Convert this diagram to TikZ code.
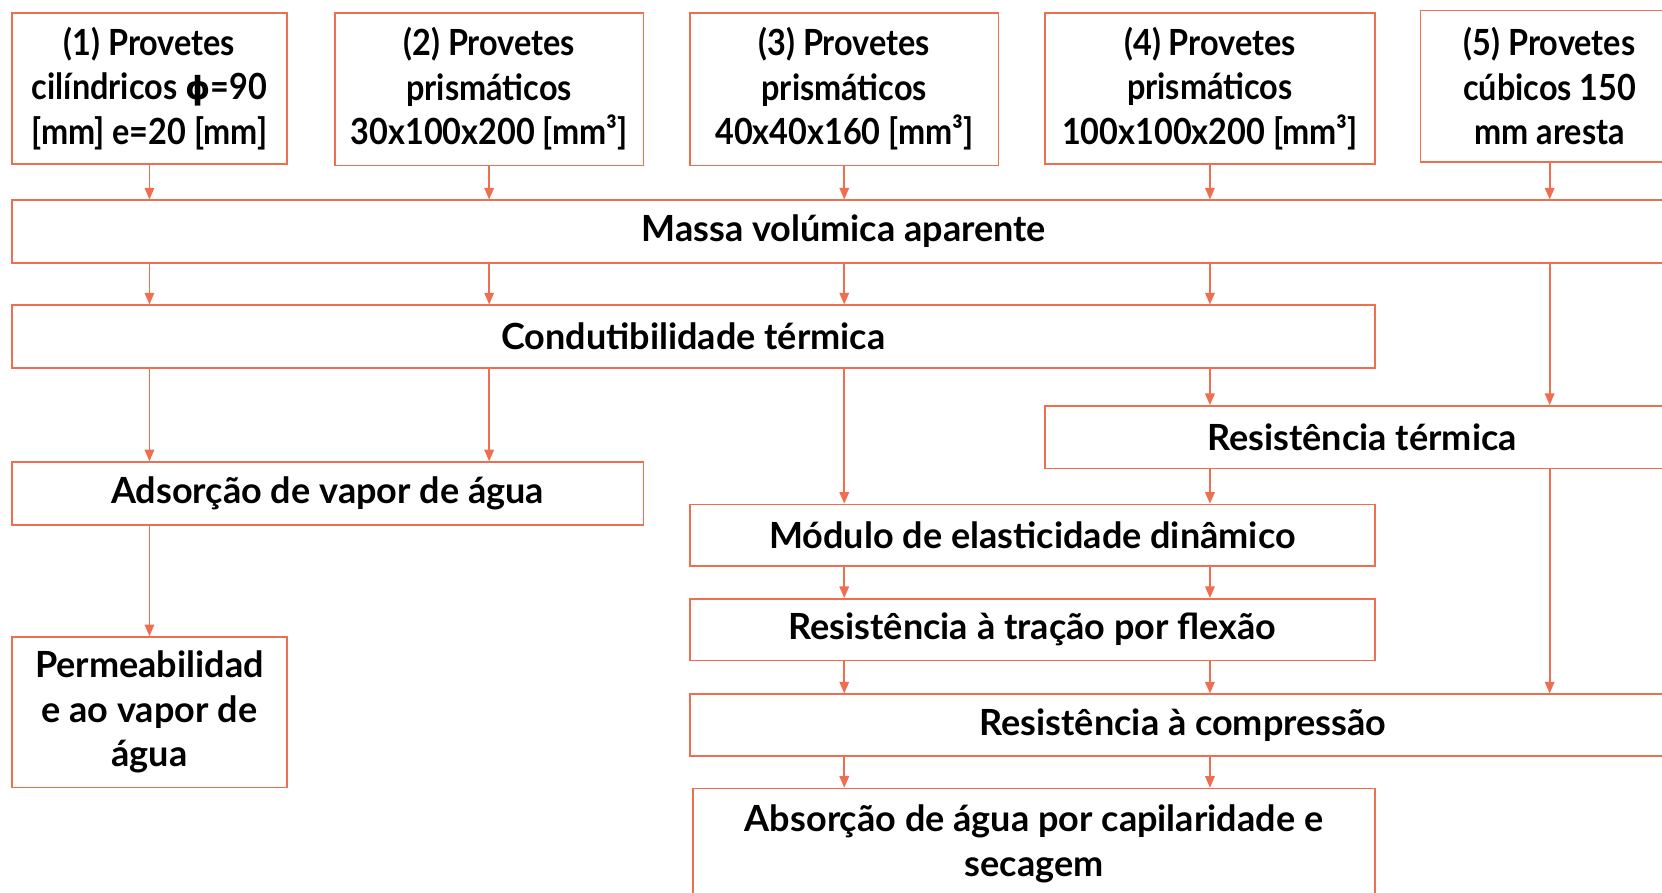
\documentclass[tikz,border=0pt]{standalone}
\usepackage{fontspec}
\setmainfont{Lato}
\newfontfamily\nar{Lato Bold}[FakeStretch=0.9]
\newfontfamily\phifont{DejaVu Sans Bold}
\usetikzlibrary{arrows.meta}
\definecolor{ln}{RGB}{240,110,80}
\tikzset{
  box/.style={draw=ln, line width=0.8pt, rectangle, inner sep=0pt, align=center,
    font=\fontsize{17}{21}\selectfont\bfseries, text=black},
  topbox/.style={box, font=\fontsize{17}{21}\selectfont\nar},
  arr/.style={draw=ln, line width=0.8pt, -{Triangle[length=5.5pt,width=4.5pt]}}
}
\begin{document}
\begin{tikzpicture}[x=0.5pt,y=-0.5pt]
\useasboundingbox (0,0) rectangle (1568,842);
% top boxes
\node[topbox, minimum width=130pt, minimum height=71.5pt] (b1) at (141,83.5) {(1) Provetes\\cilíndricos {\phifont\fontsize{15}{21}\selectfont ϕ}=90\\{[mm]} e=20 [mm]};
\node[topbox, minimum width=145.5pt, minimum height=72pt] (b2) at (461.5,84) {(2) Provetes\\prismáticos\\30x100x200 [mm³]};
\node[topbox, minimum width=145.5pt, minimum height=72pt] (b3) at (796.5,84) {(3) Provetes\\prismáticos\\40x40x160 [mm³]};
\node[topbox, minimum width=155.5pt, minimum height=71.5pt] (b4) at (1141.5,83.5) {(4) Provetes\\prismáticos\\100x100x200 [mm³]};
\node[topbox, minimum width=122pt, minimum height=71.5pt] (b5) at (1462,81.5) {(5) Provetes\\cúbicos 150\\mm aresta};
% rows
\node[box, minimum width=785pt, minimum height=29.5pt] (massa) at (796,218.5) {Massa volúmica aparente};
\node[box, minimum width=643pt, minimum height=29.5pt] (cond) at (654,317.5) {Condutibilidade térmica};
\node[box, minimum width=299pt, minimum height=29.5pt] (rt) at (1285,412.5) {Resistência térmica};
\node[box, minimum width=298pt, minimum height=29.5pt] (ads) at (309,465.5) {Adsorção de vapor de água};
\node[box, minimum width=323pt, minimum height=29pt] (mod) at (974,505) {Módulo de elasticidade dinâmico};
\node[box, minimum width=323pt, minimum height=29pt] (trac) at (974,594) {Resistência à tração por flexão};
\node[box, minimum width=465pt, minimum height=29pt] (comp) at (1116,684) {Resistência à compressão};
\node[box, minimum width=321.5pt, minimum height=52pt] (abs) at (975.5,796) {Absorção de água por capilaridade e\\secagem};
\node[box, minimum width=130pt, minimum height=71pt] (perm) at (141,672) {Permeabilidad\\e ao vapor de\\água};
% connectors
\foreach \b in {b1,b2,b3,b4,b5} \draw[arr] (\b.south) -- (massa.north -| \b.south);
\foreach \b in {b1,b2,b3,b4} \draw[arr] (massa.south -| \b.south) -- (cond.north -| \b.south);
\draw[arr] (massa.south -| b5.south) -- (rt.north -| b5.south);
\foreach \b in {b1,b2} \draw[arr] (cond.south -| \b.south) -- (ads.north -| \b.south);
\draw[arr] (cond.south -| b3.south) -- (mod.north -| b3.south);
\draw[arr] (cond.south -| b4.south) -- (rt.north -| b4.south);
\draw[arr] (rt.south -| b4.south) -- (mod.north -| b4.south);
\draw[arr] (rt.south -| b5.south) -- (comp.north -| b5.south);
\draw[arr] (ads.south -| b1.south) -- (perm.north);
\foreach \b in {b3,b4} {
  \draw[arr] (mod.south -| \b.south) -- (trac.north -| \b.south);
  \draw[arr] (trac.south -| \b.south) -- (comp.north -| \b.south);
  \draw[arr] (comp.south -| \b.south) -- (abs.north -| \b.south);
}
\end{tikzpicture}
\end{document}
